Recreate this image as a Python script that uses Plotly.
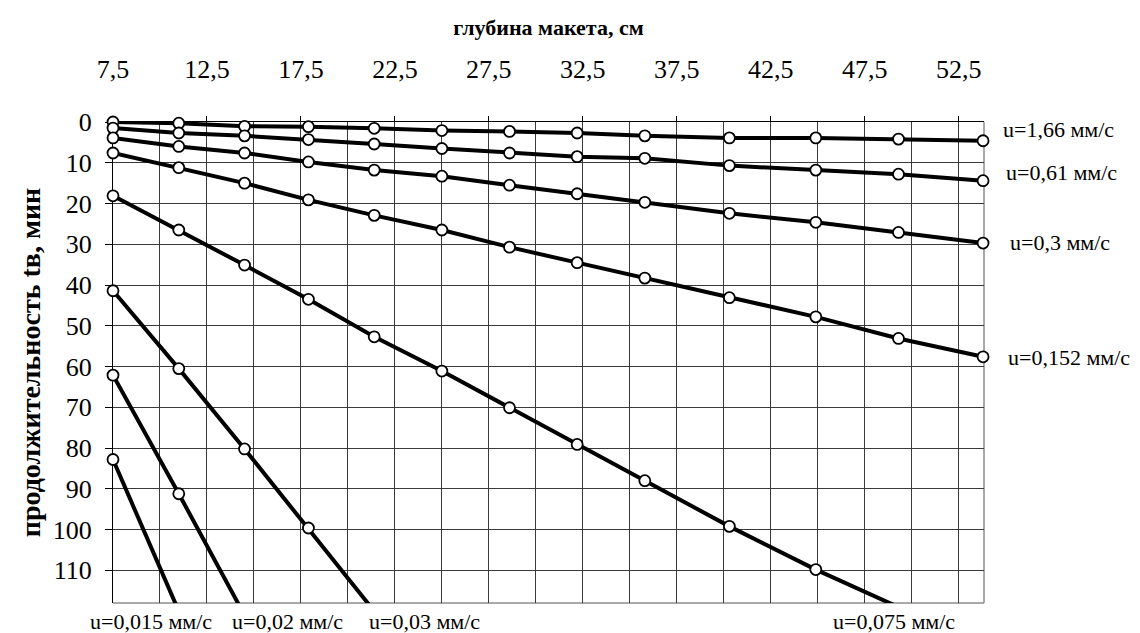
import plotly.graph_objects as go

# ---------------- data ----------------
depth = [7.5, 11, 14.5, 17.9, 21.4, 25, 28.6, 32.2, 35.8, 40.3, 44.9, 49.3, 53.8]

series_names = ["u=1,66 мм/с", "u=0,61 мм/с", "u=0,3 мм/с", "u=0,152 мм/с",
                "u=0,075 мм/с", "u=0,03 мм/с", "u=0,02 мм/с", "u=0,015 мм/с"]

t_u166 = [0, 0.3, 1.05, 1.15, 1.55, 2.1, 2.3, 2.7, 3.4, 3.9, 3.9, 4.2, 4.6]
t_u061 = [1.5, 2.7, 3.4, 4.3, 5.4, 6.5, 7.6, 8.5, 8.9, 10.7, 11.8, 12.8, 14.4]
t_u030 = [3.9, 6.0, 7.6, 9.8, 11.8, 13.3, 15.5, 17.6, 19.7, 22.4, 24.6, 27.1, 29.7]
t_u0152 = [7.6, 11.2, 15.0, 19.1, 22.9, 26.5, 30.7, 34.5, 38.3, 43.1, 47.8, 53.1, 57.6]
t_u0075 = [18.1, 26.5, 35.1, 43.5, 52.7, 61.1, 70.1, 79.1, 88.0, 99.2, 109.8, 119]
t_u003 = [41.4, 60.5, 80.2, 99.6, 120]
t_u002 = [62.1, 91.2, 121]
t_u0015 = [82.8, 120]

x_tickvals = [7.5, 12.5, 17.5, 22.5, 27.5, 32.5, 37.5, 42.5, 47.5, 52.5]
x_ticktext = ["7,5", "12,5", "17,5", "22,5", "27,5", "32,5", "37,5", "42,5", "47,5", "52,5"]
y_tickvals = [0, 10, 20, 30, 40, 50, 60, 70, 80, 90, 100, 110]

x_title = "глубина макета, см"
y_title = "продолжительность tв, мин"

# ---------------- styling ----------------
X_RANGE = [7.5, 53.85]
Y_MAX = 118
FONT = "Liberation Serif, Times New Roman, serif"

all_series = [t_u166, t_u061, t_u030, t_u0152, t_u0075, t_u003, t_u002, t_u0015]

# label placement (styling only)
right_labels = {0: (17, 1.9), 1: (20, 12.4), 2: (24, 29.5), 3: (22, 57.8)}
bottom_labels = {7: 9.5, 6: 16.8, 5: 24.1, 4: 49.05}

fig = go.Figure()

for vals in all_series:
    xs = depth[:len(vals)]
    fig.add_trace(go.Scatter(x=xs, y=vals, mode="lines",
                             line=dict(color="black", width=4),
                             showlegend=False, hoverinfo="skip"))
for vals in all_series:
    xs = depth[:len(vals)]
    pts = [(a, b) for a, b in zip(xs, vals) if b <= Y_MAX]
    fig.add_trace(go.Scatter(x=[p[0] for p in pts], y=[p[1] for p in pts],
                             mode="markers", cliponaxis=False,
                             marker=dict(symbol="circle", size=11, color="white",
                                         line=dict(color="black", width=1.8)),
                             showlegend=False))

annotations = []
for i, (xs_shift, yv) in right_labels.items():
    annotations.append(dict(x=X_RANGE[1], y=yv, xref="x", yref="y", text=series_names[i],
                            showarrow=False, xanchor="left", yanchor="middle",
                            xshift=xs_shift, font=dict(family=FONT, size=22, color="black")))
for i, xv in bottom_labels.items():
    annotations.append(dict(x=xv, y=0, xref="x", yref="paper", text=series_names[i],
                            showarrow=False, xanchor="center", yanchor="middle",
                            yshift=-18, font=dict(family=FONT, size=22, color="black")))

shapes = [
    dict(type="line", xref="paper", yref="paper", x0=0, x1=1, y0=0, y1=0,
         line=dict(color="#8c8c8c", width=1.5), layer="below"),
    dict(type="line", xref="paper", yref="paper", x0=1, x1=1, y0=0, y1=1,
         line=dict(color="#8c8c8c", width=1.5), layer="below"),
]

# page body has an 8px margin, so the figure is sized to fit the window
fig.update_layout(
    width=1132, height=625,
    margin=dict(l=105, r=156, t=114, b=30, autoexpand=False),
    paper_bgcolor="white", plot_bgcolor="white",
    font=dict(family=FONT, color="black"),
    annotations=annotations, shapes=shapes,
    xaxis=dict(
        side="top", range=X_RANGE, tickvals=x_tickvals, ticktext=x_ticktext,
        ticks="outside", ticklen=5, tickcolor="black", tickwidth=1,
        showline=True, linecolor="black", linewidth=1.2,
        showgrid=True, gridcolor="#3a3a3a", gridwidth=1,
        minor=dict(tick0=7.5, dtick=2.5, showgrid=True, gridcolor="#3a3a3a", gridwidth=1, ticks=""),
        tickfont=dict(family=FONT, size=26, color="black"),
        ticklabelstandoff=28,
        zeroline=False, layer="below traces",
        title=dict(text="<b>" + x_title + "</b>", font=dict(family=FONT, size=22, color="black"),
                   standoff=12),
    ),
    yaxis=dict(
        range=[Y_MAX, 0], tickvals=y_tickvals,
        ticks="outside", ticklen=7, tickcolor="black", tickwidth=1,
        showline=True, linecolor="black", linewidth=1.2,
        showgrid=True, gridcolor="#3a3a3a", gridwidth=1,
        tickfont=dict(family=FONT, size=26, color="black"),
        ticklabelstandoff=8,
        zeroline=False, layer="below traces",
        title=dict(text="<b>" + y_title + "</b>", font=dict(family=FONT, size=28, color="black"),
                   standoff=3),
    ),
)

fig.write_html("out.html")
